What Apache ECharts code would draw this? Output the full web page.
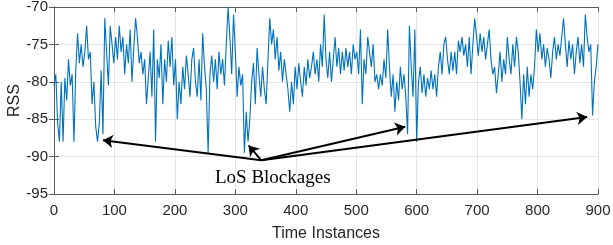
<!DOCTYPE html>
<html>
<head>
<meta charset="utf-8">
<script src="https://cdn.jsdelivr.net/npm/echarts@6/dist/echarts.min.js"></script>
<style>
html, body { margin: 0; padding: 0; background: #fff; }
#rss_chart { width: 613px; height: 245px; }
</style>
</head>
<body>
<div id="rss_chart"></div>
<script>
// RSS samples, one value every 3 time instances
var step = 3;
var rss = [
	-80.5, -79, -85.5, -88, -80, -88, -79.5, -82.5, -77, -80.5,
	-79, -88, -78.5, -73.5, -77.5, -75, -78, -76, -72.5, -77,
	-76, -83, -80, -86, -88, -85.5, -78.5, -87, -71.5, -76,
	-80.5, -72.5, -75, -77.5, -74, -77, -72.5, -76, -74, -79,
	-75, -77.5, -73, -80, -75.5, -71.5, -74, -77.5, -76, -79,
	-77, -83, -79.5, -76, -82, -73, -88, -77, -79.5, -75,
	-83, -77, -80, -74.5, -78, -74, -80.5, -77, -85, -80,
	-83, -78, -81, -76.5, -79, -82, -77, -75.5, -80, -82,
	-77, -82.5, -73.5, -78, -81, -89.5, -79, -76.5, -80, -77,
	-81, -76, -79, -77, -80.5, -75, -70, -74, -79, -71,
	-76, -82, -78, -80.5, -79, -89.5, -84, -88, -85, -80,
	-77.5, -83, -75.5, -79, -82, -78, -81, -83, -77, -71.5,
	-75, -73, -77, -74, -78.5, -76, -80, -77, -79, -81,
	-84, -80, -83, -78, -81, -77.5, -80, -82, -78, -80.5,
	-77, -79.5, -78, -76, -79, -77, -80, -75, -78, -71,
	-77, -79.5, -76, -80, -77, -74, -78, -75.5, -79, -76,
	-78.5, -75.5, -78, -76, -79, -75, -77, -76, -79, -73,
	-83, -77, -79, -74, -76, -78, -75, -80, -79, -81,
	-79, -80.5, -77, -79.5, -73, -78, -82, -79, -84, -80,
	-82.5, -78, -81, -79, -82, -87, -72.5, -78, -82, -73,
	-88, -80, -78, -81.5, -79, -82, -79.5, -81, -78.5, -81,
	-79, -82, -78, -76, -79, -75, -74, -77, -79, -76,
	-78.5, -76, -79, -74.5, -76, -74, -76.5, -75, -78, -74,
	-79, -75, -71.5, -74, -76.5, -73.5, -76, -74, -77, -75,
	-73, -77, -79, -78, -81.5, -79, -76, -80, -77, -79,
	-74, -77, -79, -75, -78, -74, -76, -80, -85, -79,
	-83, -78, -82, -79, -81, -78, -73, -76, -73.5, -77,
	-75, -78, -75.5, -77, -79.5, -76, -74, -77, -75, -76.5,
	-74, -71.5, -75, -78, -74.5, -77, -75, -79, -76, -74,
	-77.5, -75, -78, -71, -74, -76, -75, -84.5, -80, -78,
	-75
];

// 箭头: 从文字处指向各个遮挡点 (time, RSS)
var arrowFrom = [343, -90.5];
var arrowTo = [[81, -87.8], [322, -88.5], [581, -86], [882, -84.7]];
var annotationText = 'LoS Blockages';

var xTicks = { min: 0, max: 900, interval: 100 };
var yTicks = { min: -95, max: -70, interval: 5 };

function buildPoints() {
	var pts = [];
	for (var i = 0; i < rss.length; i++) {
		pts.push([i * step, rss[i]]);
	}
	return pts;
}

function buildArrows() {
	var lines = [];
	for (var i = 0; i < arrowTo.length; i++) {
		lines.push([{ coord: arrowFrom }, { coord: arrowTo[i] }]);
	}
	return lines;
}

function rss_echart() {
	var myChart = echarts.init(document.getElementById('rss_chart'));
	var axisColor = '#5a5a5a';
	var labelFont = { color: '#262626', fontSize: 15, fontFamily: 'Liberation Sans, Arial, sans-serif' };

	var option = {
		animation: false,
		grid: { left: 54, right: 15, top: 7, bottom: 51, containLabel: false, outerBoundsMode: 'none' },
		xAxis: [{
			type: 'value',
			min: xTicks.min, max: xTicks.max, interval: xTicks.interval,
			name: 'Time Instances',
			nameLocation: 'middle',
			nameGap: 32,
			nameMoveOverlap: false,
			nameTextStyle: { color: '#262626', fontSize: 16, fontFamily: 'Liberation Sans, Arial, sans-serif' },
			axisLine: { show: true, lineStyle: { color: axisColor, width: 1 } },
			axisTick: { show: true, inside: true, length: 5, lineStyle: { color: axisColor } },
			axisLabel: Object.assign({ margin: 9 }, labelFont),
			splitLine: { show: true, lineStyle: { color: '#e6e6e6', width: 1 } }
		}, {
			type: 'value', position: 'top',
			min: xTicks.min, max: xTicks.max, interval: xTicks.interval,
			axisLine: { show: true, lineStyle: { color: axisColor, width: 1 } },
			axisTick: { show: true, inside: true, length: 5, lineStyle: { color: axisColor } },
			axisLabel: { show: false },
			splitLine: { show: false }
		}],
		yAxis: [{
			type: 'value',
			min: yTicks.min, max: yTicks.max, interval: yTicks.interval,
			name: 'RSS',
			nameLocation: 'middle',
			nameGap: 31,
			nameMoveOverlap: false,
			nameTextStyle: { color: '#262626', fontSize: 16, fontFamily: 'Liberation Sans, Arial, sans-serif' },
			axisLine: { show: true, lineStyle: { color: axisColor, width: 1 } },
			axisTick: { show: true, inside: true, length: 5, lineStyle: { color: axisColor } },
			axisLabel: Object.assign({ margin: 6 }, labelFont),
			splitLine: { show: true, lineStyle: { color: '#e6e6e6', width: 1 } }
		}, {
			type: 'value', position: 'right',
			min: yTicks.min, max: yTicks.max, interval: yTicks.interval,
			axisLine: { show: true, lineStyle: { color: axisColor, width: 1 } },
			axisTick: { show: true, inside: true, length: 5, lineStyle: { color: axisColor } },
			axisLabel: { show: false },
			splitLine: { show: false }
		}],
		graphic: [{
			type: 'text',
			left: 215,
			top: 169,
			style: {
				text: annotationText,
				font: '19px "Palatino Linotype", "Book Antiqua", "Liberation Serif", serif',
				fill: '#000'
			}
		}],
		series: [{
			type: 'line',
			data: buildPoints(),
			showSymbol: false,
			symbol: 'none',
			lineStyle: { color: '#0072BD', width: 1.1 },
			itemStyle: { color: '#0072BD' },
			markLine: {
				silent: true,
				symbol: ['none', 'arrow'],
				symbolSize: 10,
				label: { show: false },
				lineStyle: { color: '#000', width: 2, type: 'solid' },
				data: buildArrows()
			}
		}]
	};

	myChart.setOption(option);
}

rss_echart();
</script>
</body>
</html>
